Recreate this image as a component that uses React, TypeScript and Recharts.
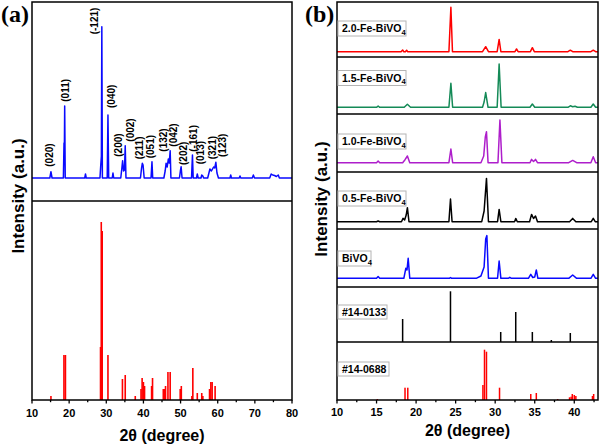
import React from 'react';
import { LineChart, Line, XAxis, YAxis, BarChart, Bar, ComposedChart, Scatter } from 'recharts';

type P = [number, number];
const SANS = "'Liberation Sans', Arial, sans-serif";
const SERIF = "'Liberation Serif', 'Times New Roman', serif";

// ---------- Panel (a) ----------
// experimental BiVO4 pattern, 2θ vs intensity (a.u.)
const bivo4A: P[] = [
  [10, 23], [14.8, 23], [15.1, 29.3], [15.4, 23],
  [18.45, 23], [18.62, 58], [18.7, 45], [18.8, 95], [18.95, 23],
  [24.2, 23], [24.4, 27], [24.6, 23],
  [28.3, 23], [28.55, 38], [28.68, 45], [28.8, 174.3], [28.95, 23],
  [30.25, 23], [30.45, 86], [30.65, 23],
  [31.6, 23], [31.8, 28], [32.0, 23],
  [33.9, 23], [34.2, 33], [34.4, 40.3], [34.65, 30], [34.9, 31], [35.1, 55.3], [35.3, 23],
  [39.2, 23], [39.5, 33], [39.7, 37.7], [39.9, 36], [40.2, 23],
  [42.05, 23], [42.3, 39.3], [42.5, 23],
  [45.5, 23], [45.85, 30], [46.1, 37.7], [46.4, 34], [46.7, 42], [46.95, 38], [47.2, 50.3], [47.4, 23],
  [49.7, 23], [49.95, 30], [50.15, 34.3], [50.4, 23],
  [52.95, 23], [53.2, 46], [53.4, 23],
  [54.3, 23], [54.5, 27], [54.75, 23], [55.5, 23], [55.7, 26], [56.0, 25], [56.2, 23],
  [57.3, 23], [57.9, 32], [58.3, 30], [58.6, 32], [58.9, 34], [59.2, 33], [59.5, 38.7], [59.8, 28], [60.2, 23],
  [63.3, 23], [63.5, 26], [63.7, 23],
  [65.8, 23], [66.0, 25], [66.2, 23],
  [69.3, 23], [69.6, 26], [69.9, 23],
  [74.0, 23], [74.4, 27], [74.8, 26], [75.3, 25.5], [75.8, 24.5], [76.3, 26], [76.6, 23],
  [80, 23],
];
// Miller indices above the peaks: [2θ of label, intensity at label start, text]
const hklX = [14.6, 18.9, 26.8, 31.5, 33.2, 36.6, 38.9, 41.9, 45.4, 48.0, 50.8, 53.4, 55.4, 58.5, 61.3];
const hklY = [34.3, 99.3, 166.7, 93, 44.3, 59.3, 41.7, 42.7, 49.3, 54.3, 36, 49.3, 36.7, 41.7, 44];
const hklText = ['(020)', '(011)', '(-121)', '(040)', '(200)', '(002)', '(211)', '(051)', '(132)', '(042)', '(202)', '(-161)', '(013)', '(321)', '(123)'];

// JCPDS 14-0688 stick pattern for panel (a)
const cardA: P[] = [
  [15.1, 4], [18.6, 45], [19.0, 45], [28.45, 53], [28.65, 178], [28.9, 169], [30.45, 45],
  [34.35, 21], [35.1, 25], [37.8, 4], [39.35, 11], [39.65, 22], [40.0, 18], [40.3, 14],
  [42.2, 14], [42.45, 22], [45.35, 11], [45.6, 11], [45.95, 14], [46.6, 28], [47.2, 28],
  [49.9, 11], [50.2, 14], [53.05, 4], [53.3, 32], [54.5, 7], [55.7, 7], [56.0, 4],
  [57.8, 11], [58.15, 18], [58.5, 18], [59.3, 14],
];
const ticksAMajor = [10, 20, 30, 40, 50, 60, 70, 80];
const ticksAMinor = [15, 25, 35, 45, 55, 65, 75];

// ---------- Panel (b) ----------
const fe20: P[] = [
  [10, 5.3], [18.1, 5.3], [18.3, 7], [18.45, 5.3], [18.65, 5.3], [18.8, 6.8], [18.95, 5.3],
  [24.15, 5.3], [24.4, 49.7], [24.6, 5.3], [28.4, 5.3], [28.8, 10.3], [29.15, 5.3],
  [30.25, 5.3], [30.5, 17.6], [30.72, 5.3], [32.5, 5.3], [32.7, 8], [32.9, 5.3],
  [34.45, 5.3], [34.7, 9.3], [34.95, 5.3], [39.2, 5.3], [39.5, 6.8], [39.8, 5.3],
  [42.1, 5.3], [42.4, 6.8], [42.7, 5.3], [43, 5.3],
];
const fe15: P[] = [
  [10, 6.7], [15.0, 6.7], [15.2, 8], [15.4, 6.7], [18.5, 6.7], [18.9, 9.7], [19.3, 6.7],
  [24.15, 6.7], [24.4, 30.7], [24.62, 6.7], [28.4, 6.7], [28.6, 12], [28.8, 21.4], [29.1, 6.7],
  [30.25, 6.7], [30.5, 50], [30.75, 6.7], [34.4, 6.7], [34.7, 10], [35.0, 6.7],
  [39.2, 6.7], [39.5, 8.2], [39.8, 7.2], [40.1, 7.7], [40.4, 6.7], [42.1, 6.7], [42.4, 10], [42.7, 6.7], [43, 6.7],
];
const fe10: P[] = [
  [10, 9.3], [15.0, 9.3], [15.2, 11], [15.4, 9.3], [18.3, 9.3], [18.6, 12.3], [18.9, 16], [19.2, 9.3],
  [24.15, 9.3], [24.4, 23], [24.62, 9.3], [28.2, 9.3], [28.55, 16], [28.75, 35], [28.9, 40.3], [29.1, 9.3],
  [30.35, 9.3], [30.6, 52], [30.85, 9.3], [34.4, 9.3], [34.6, 12.6], [34.85, 10.5], [35.1, 12.6], [35.35, 9.3],
  [39.3, 9.3], [39.8, 11.6], [40.3, 9.3], [42.1, 9.3], [42.4, 15.3], [42.7, 9.3], [43, 9.3],
];
const fe05: P[] = [
  [10, 7.3], [15.0, 7.3], [15.2, 8], [15.4, 7.3], [18.15, 7.3], [18.35, 10.6], [18.55, 9], [18.75, 14], [18.9, 21.3], [19.1, 7.3],
  [24.15, 7.3], [24.35, 30], [24.55, 7.3], [28.3, 7.3], [28.6, 18], [28.9, 50.6], [29.15, 7.3],
  [30.3, 7.3], [30.5, 19.6], [30.72, 7.3], [32.45, 7.3], [32.6, 10.6], [32.8, 7.3],
  [34.35, 7.3], [34.6, 14.6], [34.85, 10.5], [35.1, 13], [35.35, 7.3],
  [39.4, 7.3], [39.8, 10.6], [40.2, 7.3], [42.15, 7.3], [42.4, 10.6], [42.65, 7.3], [43, 7.3],
];
const bivo4B: P[] = [
  [10, 8.7], [15.0, 8.7], [15.2, 10.4], [15.4, 8.7], [18.45, 8.7], [18.7, 18.7], [18.85, 17], [19.0, 28.7], [19.2, 8.7],
  [24.2, 8.7], [24.35, 9.4], [24.5, 8.7], [27.6, 8.7], [28.2, 11], [28.6, 20], [28.8, 48], [28.95, 51.4], [29.15, 8.7],
  [30.3, 8.7], [30.5, 26], [30.72, 8.7], [31.65, 8.7], [31.85, 9.7], [32.05, 8.7],
  [34.2, 8.7], [34.5, 12.7], [34.75, 9.5], [35.0, 10], [35.2, 17], [35.4, 8.7],
  [39.3, 8.7], [39.8, 12], [40.3, 8.7], [42.1, 8.7], [42.4, 12.7], [42.7, 8.7], [43, 8.7],
];
const card0133: P[] = [[18.3, 23], [24.35, 50.7], [30.7, 10], [32.6, 30], [34.7, 10], [37.1, 2], [39.5, 9]];
const card0688: P[] = [
  [15.1, 1], [18.6, 12.3], [18.95, 12.3], [28.45, 15], [28.65, 50.3], [28.9, 48.3], [30.55, 12.3],
  [34.5, 6], [35.2, 7], [37.9, 1], [39.4, 2.7], [39.6, 3.3], [39.75, 6], [40.0, 5], [40.2, 4], [42.3, 4], [42.45, 6],
];
const ticksBMajor = [10, 15, 20, 25, 30, 35, 40];
const ticksBMinor = [12.5, 17.5, 22.5, 27.5, 32.5, 37.5, 42.5];

const M = { top: 0, right: 0, bottom: 0, left: 0 };
const PAD = 20;
const MP = { top: 0, right: PAD, bottom: 0, left: PAD };
const rows = (d: P[]) => d.map(([x, y]) => ({ x, y }));

const makeTick = (majors: number[], dy: number) => (props: any) => {
  const { x, y, payload } = props;
  const major = majors.includes(payload.value);
  return (
    <g>
      <line x1={x} x2={x} y1={y} y2={y + (major ? 3.5 : 2.2)} stroke="#000" strokeWidth={1.3} />
      {major && (
        <text x={x} y={y + dy} textAnchor="middle" fontSize={11} fontWeight="bold" fontFamily={SANS} fill="#000">
          {payload.value}
        </text>
      )}
    </g>
  );
};

const Stick = (w: number) => (p: any) => {
  const cx = p.x + p.width / 2;
  return <rect x={cx - w / 2} y={p.y} width={w} height={Math.max(0, p.height)} fill={p.fill} />;
};

const HklLabel = (p: any) => (
  <text x={p.cx} y={p.cy} transform={`rotate(-90 ${p.cx} ${p.cy})`} fontSize={10} fontWeight="bold"
    fontFamily={SANS} dominantBaseline="central" textAnchor="start" fill="#000">
    {p.payload.t}
  </text>
);

function Spectrum({ data, color, w, h, xd, sw = 1.5 }: any) {
  return (
    <LineChart width={w} height={h} data={rows(data)} margin={M}>
      <XAxis type="number" dataKey="x" domain={xd} hide allowDataOverflow />
      <YAxis type="number" domain={[0, h]} hide allowDataOverflow />
      <Line type="linear" dataKey="y" stroke={color} strokeWidth={sw} dot={false} isAnimationActive={false} strokeLinejoin="round" />
    </LineChart>
  );
}

function Sticks({ data, color, w, h, xd, sw, axis, majors, minors, dy }: any) {
  const axisH = axis ? 47 : 0;
  return (
    <BarChart width={w + 2 * PAD} height={h + axisH} data={rows(data)} margin={MP}>
      <XAxis type="number" dataKey="x" domain={xd} allowDataOverflow hide={!axis} height={axisH}
        ticks={axis ? [...majors, ...minors].sort((a, b) => a - b) : undefined} interval={0}
        axisLine={false} tickLine={false} tickSize={0} tickMargin={0}
        tick={axis ? makeTick(majors, dy) : false} />
      <YAxis type="number" domain={[0, h]} hide allowDataOverflow />
      <Bar dataKey="y" fill={color} isAnimationActive={false} shape={Stick(sw)} />
    </BarChart>
  );
}

const abs = (left: number, top: number): React.CSSProperties => ({ position: 'absolute', left, top });

const bPanels = [
  { top: 2, bottom: 57, data: fe20, color: '#ff0000', label: '2.0-Fe-BiVO', sub: '4', by: 21, bw: 68 },
  { top: 57, bottom: 114, data: fe15, color: '#148a57', label: '1.5-Fe-BiVO', sub: '4', by: 70.5, bw: 68 },
  { top: 114, bottom: 172, data: fe10, color: '#ae1ecb', label: '1.0-Fe-BiVO', sub: '4', by: 134, bw: 68 },
  { top: 172, bottom: 229, data: fe05, color: '#000000', label: '0.5-Fe-BiVO', sub: '4', by: 191, bw: 68 },
  { top: 229, bottom: 287, data: bivo4B, color: '#0a0aff', label: 'BiVO', sub: '4', by: 251, bw: 33 },
];

export default function App() {
  const AL = 32, AW = 260, BL = 337, BW = 261;
  return (
    <div style={{ position: 'absolute', left: 0, top: 0, width: 600, height: 447, background: '#fff', overflow: 'hidden' }}>
      {/* panel (a) */}
      <div style={abs(AL, 2)}>
        <ComposedChart width={AW} height={199} margin={M}>
          <XAxis type="number" dataKey="x" domain={[10, 80]} hide allowDataOverflow />
          <YAxis type="number" dataKey="y" domain={[0, 199]} hide allowDataOverflow />
          <Line data={rows(bivo4A)} type="linear" dataKey="y" stroke="#0a0aff" strokeWidth={1.5} dot={false} isAnimationActive={false} strokeLinejoin="round" />
          <Scatter data={hklX.map((x, i) => ({ x, y: hklY[i], t: hklText[i] }))} shape={HklLabel} isAnimationActive={false} />
        </ComposedChart>
      </div>
      <div style={abs(AL - PAD, 201)}>
        <Sticks data={cardA} color="#ff0000" w={AW} h={199} xd={[10, 80]} sw={1.6} axis majors={ticksAMajor} minors={ticksAMinor} dy={16.5} />
      </div>

      {/* panel (b) */}
      {bPanels.map((p, i) => (
        <div key={i} style={abs(BL, p.top)}>
          <Spectrum data={p.data} color={p.color} w={BW} h={p.bottom - p.top} xd={[10, 43]} sw={1.5} />
        </div>
      ))}
      <div style={abs(BL - PAD, 287)}>
        <Sticks data={card0133} color="#000000" w={BW} h={55} xd={[10, 43]} sw={1.5} />
      </div>
      <div style={abs(BL - PAD, 342)}>
        <Sticks data={card0688} color="#ff0000" w={BW} h={58} xd={[10, 43]} sw={1.5} axis majors={ticksBMajor} minors={ticksBMinor} dy={15.5} />
      </div>

      {/* frames, titles, legends */}
      <svg width={600} height={447} style={{ position: 'absolute', left: 0, top: 0, pointerEvents: 'none' }}>
        <rect x={AL} y={2} width={AW} height={398} fill="none" stroke="#000" strokeWidth={1.5} />
        <line x1={AL} x2={AL + AW} y1={201} y2={201} stroke="#000" strokeWidth={1.5} />
        <rect x={BL} y={2} width={BW} height={398} fill="none" stroke="#000" strokeWidth={1.5} />
        {[57, 114, 172, 229, 287, 342].map((y) => (
          <line key={y} x1={BL} x2={BL + BW} y1={y} y2={y} stroke="#000" strokeWidth={1.5} />
        ))}
        {bPanels.map((p, i) => (
          <g key={i}>
            <rect x={338} y={p.by} width={p.bw} height={15} fill="#fff" stroke="#b4b4b4" strokeWidth={1} />
            <text x={342} y={p.by + 11.3} fontSize={10.5} fontWeight="bold" fontFamily={SANS} fill="#000">
              {p.label}
              <tspan fontSize={7.5} dy={2.5}>{p.sub}</tspan>
            </text>
          </g>
        ))}
        <rect x={338} y={305} width={49} height={14} fill="#fff" stroke="#b4b4b4" strokeWidth={1} />
        <text x={342} y={315.8} fontSize={10.5} fontWeight="bold" fontFamily={SANS} fill="#000">#14-0133</text>
        <rect x={338} y={362} width={51} height={14} fill="#fff" stroke="#b4b4b4" strokeWidth={1} />
        <text x={342} y={372.8} fontSize={10.5} fontWeight="bold" fontFamily={SANS} fill="#000">#14-0688</text>

        <text x={1} y={21.5} fontSize={24} fontWeight="bold" fontFamily={SERIF} fill="#000">(a)</text>
        <text x={305} y={21.5} fontSize={24} fontWeight="bold" fontFamily={SERIF} fill="#000">(b)</text>
        <text x={18} y={196} transform="rotate(-90 18 196)" textAnchor="middle" dominantBaseline="central"
          fontSize={17} fontWeight="bold" fontFamily={SANS} fill="#000">Intensity (a.u.)</text>
        <text x={321.5} y={199} transform="rotate(-90 321.5 199)" textAnchor="middle" dominantBaseline="central"
          fontSize={17} fontWeight="bold" fontFamily={SANS} fill="#000">Intensity (a.u.)</text>
        <text x={162} y={441} textAnchor="middle" fontSize={16} fontWeight="bold" fontFamily={SANS} fill="#000">2θ (degree)</text>
        <text x={467.5} y={436} textAnchor="middle" fontSize={16} fontWeight="bold" fontFamily={SANS} fill="#000">2θ (degree)</text>
      </svg>
    </div>
  );
}
